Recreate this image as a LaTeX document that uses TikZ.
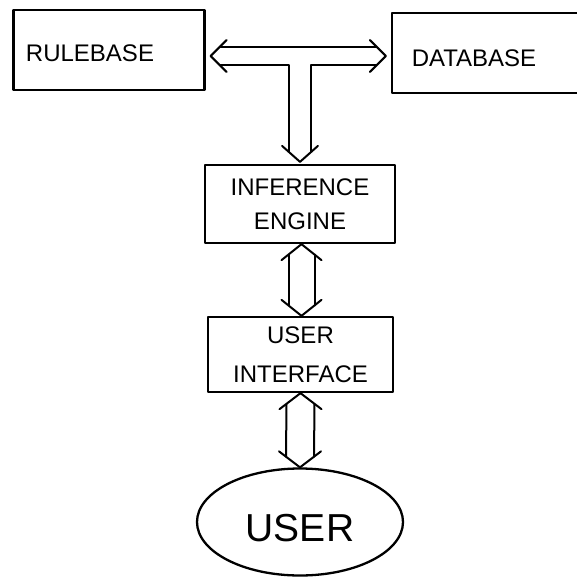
\documentclass[tikz,border=0pt]{standalone}
\usepackage{fontspec}
\setmainfont{Liberation Sans}
\usetikzlibrary{calc,shapes.geometric}
\begin{document}
\begin{tikzpicture}[x=1pt,y=-1pt, line width=2.3pt, line join=round, line cap=round,
  box/.style={draw, rectangle, inner sep=0pt, align=center, font=\fontsize{24}{34}\selectfont},
  conn/.style={draw, line width=2pt}]
\useasboundingbox (0,0) rectangle (577,579);
\node[box, minimum width=191pt, minimum height=80pt, text height=22pt, text depth=0pt] (rulebase) at (109,50) {RULEBASE\hspace{38pt}};
\node[box, minimum width=190pt, minimum height=80pt, text height=26pt, text depth=0pt] (database) at (487,53) {DATABASE\hspace{26pt}};
\node[box, minimum width=190pt, minimum height=78pt] (inference) at (300,204) {INFERENCE\\ENGINE};
\node[box, minimum width=185pt, minimum height=75pt, font=\fontsize{24}{39}\selectfont] (ui) at (300.5,354.5) {USER\\INTERFACE};
\node[draw, ellipse, minimum width=206pt, minimum height=107pt, inner sep=0pt,
  text height=38pt, text depth=0pt, font=\fontsize{39}{44}\selectfont] (user) at (300,522) {USER};
% T-shaped double arrow
\coordinate (jl) at ($(rulebase.east)+(5,6)$);
\coordinate (jr) at ($(database.west)+(-5,3)$);
\coordinate (jd) at ($(inference.north)+(0,-2)$);
\coordinate (sl) at ($(jd)+(-11,0)$);
\coordinate (sr) at ($(jd)+(11,0)$);
\coordinate (bl) at ($(jl)+(10,9)$);
\coordinate (br) at ($(jr)+(-10,9)$);
\path[conn] ($(jl)+(16,-16)$) -- (jl) -- ($(jl)+(16,16)$);
\path[conn] ($(jr)+(-16,-16)$) -- (jr) -- ($(jr)+(-16,16)$);
\path[conn] ($(jl)+(10,-9)$) -- ($(jr)+(-10,-9)$);
\path[conn] (bl) -- (sl |- bl) -- ($(sl)+(0,-10)$);
\path[conn] (br) -- (sr |- br) -- ($(sr)+(0,-10)$);
\path[conn] ($(jd)+(-18,-16)$) -- (jd) -- ($(jd)+(18,-16)$);
% inference <-> ui
\coordinate (t1) at ($(inference.south)+(1.5,0)$);
\coordinate (b1) at ($(ui.north)+(1,0)$);
\path[conn] ($(t1)+(-20,16)$) -- (t1) -- ($(t1)+(20,16)$);
\path[conn] ($(b1)+(-20,-16)$) -- (b1) -- ($(b1)+(20,-16)$);
\path[conn] ($(t1)+(-13,10.4)$) -- ($(b1)+(-13,-10.4)$);
\path[conn] ($(t1)+(13,10.4)$) -- ($(b1)+(13,-10.4)$);
% ui <-> user
\coordinate (t2) at (ui.south);
\coordinate (b2) at (user.north);
\path[conn] ($(t2)+(-21,16)$) -- (t2) -- ($(t2)+(21,16)$);
\path[conn] ($(b2)+(-21,-16)$) -- (b2) -- ($(b2)+(21,-16)$);
\path[conn] ($(t2)+(-14,10.7)$) -- ($(b2)+(-14,-10.7)$);
\path[conn] ($(t2)+(14,10.7)$) -- ($(b2)+(14,-10.7)$);
\end{tikzpicture}
\end{document}
